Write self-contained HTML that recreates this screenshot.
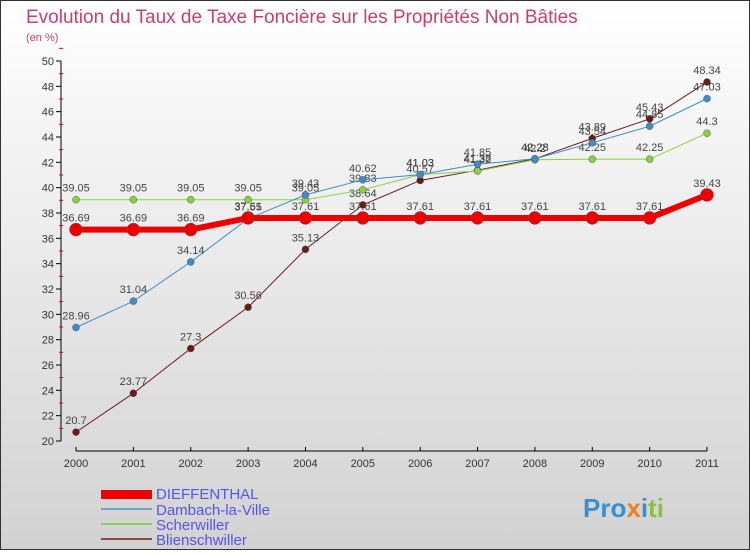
<!DOCTYPE html>
<html><head><meta charset="utf-8"><style>
body{margin:0;width:750px;height:550px;overflow:hidden;font-family:"Liberation Sans",sans-serif}
#c{position:absolute;left:0;top:0;width:748px;height:548px;border:1px solid #333;background:linear-gradient(#ffffff,#d2d2d2)}
</style></head><body>
<div id="c">
<svg id="s" width="750" height="550" xmlns="http://www.w3.org/2000/svg">
<text x="25" y="22" font-size="19" fill="#c8406e">Evolution du Taux de Taxe Foncière sur les Propriétés Non Bâties</text>
<text x="25" y="40" font-size="11" fill="#c8406e">(en %)</text>
<g id="axes"></g><g id="series"></g>
<g font-size="15" fill="#5555ee">
<rect x="100" y="489" width="51" height="9" fill="#e00"/>
<text x="155" y="498">DIEFFENTHAL</text>
<rect x="100" y="507" width="51" height="2" fill="#6fa4d0"/>
<text x="155" y="514">Dambach-la-Ville</text>
<rect x="100" y="522" width="51" height="2" fill="#88d060"/>
<text x="155" y="529">Scherwiller</text>
<rect x="100" y="537" width="51" height="2" fill="#8b4a4a"/>
<text x="155" y="544">Blienschwiller</text>
</g>
<text x="582" y="516" font-size="26" font-weight="bold"><tspan fill="#3a8fd0">Pro</tspan><tspan fill="#f08020">x</tspan><tspan fill="#3a8fd0">i</tspan><tspan fill="#8cc040">ti</tspan></text>
</svg></div>
<script>
const years=[2000,2001,2002,2003,2004,2005,2006,2007,2008,2009,2010,2011];
const dieffenthal=[36.69,36.69,36.69,37.61,37.61,37.61,37.61,37.61,37.61,37.61,37.61,39.43];
const dambach=[28.96,31.04,34.14,37.55,39.43,40.62,41.03,41.85,42.28,43.54,44.85,47.03];
const scherwiller=[39.05,39.05,39.05,39.05,39.05,39.83,41.03,41.32,42.2,42.25,42.25,44.3];
const blienschwiller=[20.7,23.77,27.3,30.56,35.13,38.64,40.57,41.38,42.28,43.89,45.43,48.34];
const yTicks=[20,22,24,26,28,30,32,34,36,38,40,42,44,46,48,50];
const NS="http://www.w3.org/2000/svg";
const X=i=>75+i*(706-75)/11, Y=v=>440-(v-20)*380/30;
function mk(t,a,p){const e=document.createElementNS(NS,t);for(const k in a)e.setAttribute(k,a[k]);p.appendChild(e);return e;}
const ax=document.getElementById('axes');
let l=mk('line',{x1:60,y1:Y(20),x2:60,y2:Y(50),stroke:'#000'},ax);

l=mk('line',{x1:75,y1:450,x2:706,y2:450,stroke:'#000'},ax);

yTicks.forEach(v=>{mk('line',{x1:55,y1:Y(v),x2:60,y2:Y(v),stroke:'#000'},ax);
 mk('line',{x1:58,y1:Y(v+1),x2:62,y2:Y(v+1),stroke:'#e00'},ax);
 const t=mk('text',{x:53,y:Y(v)+4,'font-size':11,'text-anchor':'end',fill:'#333'},ax);t.textContent=v;
 });
years.forEach((y,i)=>{mk('line',{x1:X(i),y1:446,x2:X(i),y2:450,stroke:'#000'},ax);
 const t=mk('text',{x:X(i),y:466,'font-size':11,'text-anchor':'middle',fill:'#333'},ax);t.textContent=y;
 });
const sg=document.getElementById('series');
function draw(arr,col,w,r,name){
 const g=mk('g',{},sg);
 mk('polyline',{points:arr.map((v,i)=>X(i)+','+Y(v)).join(' '),fill:'none',stroke:col,'stroke-width':w},g);
 arr.forEach((v,i)=>{const c=mk('circle',{cx:X(i),cy:Y(v),r:r,fill:col,stroke:'#555','stroke-width':0.5},g);
  
  const t=mk('text',{x:X(i),y:Y(v)-8,'font-size':11,'text-anchor':'middle',fill:'#444'},g);t.textContent=v;
  });
}
draw(blienschwiller,'#6b1a1a',1,3.5,'blienschwiller');
draw(scherwiller,'#88d040',1,3.5,'scherwiller');
draw(dambach,'#3d8ccc',1,3.5,'dambach');
draw(dieffenthal,'#ee0000',6,6.5,'dieffenthal');
</script></body></html>
